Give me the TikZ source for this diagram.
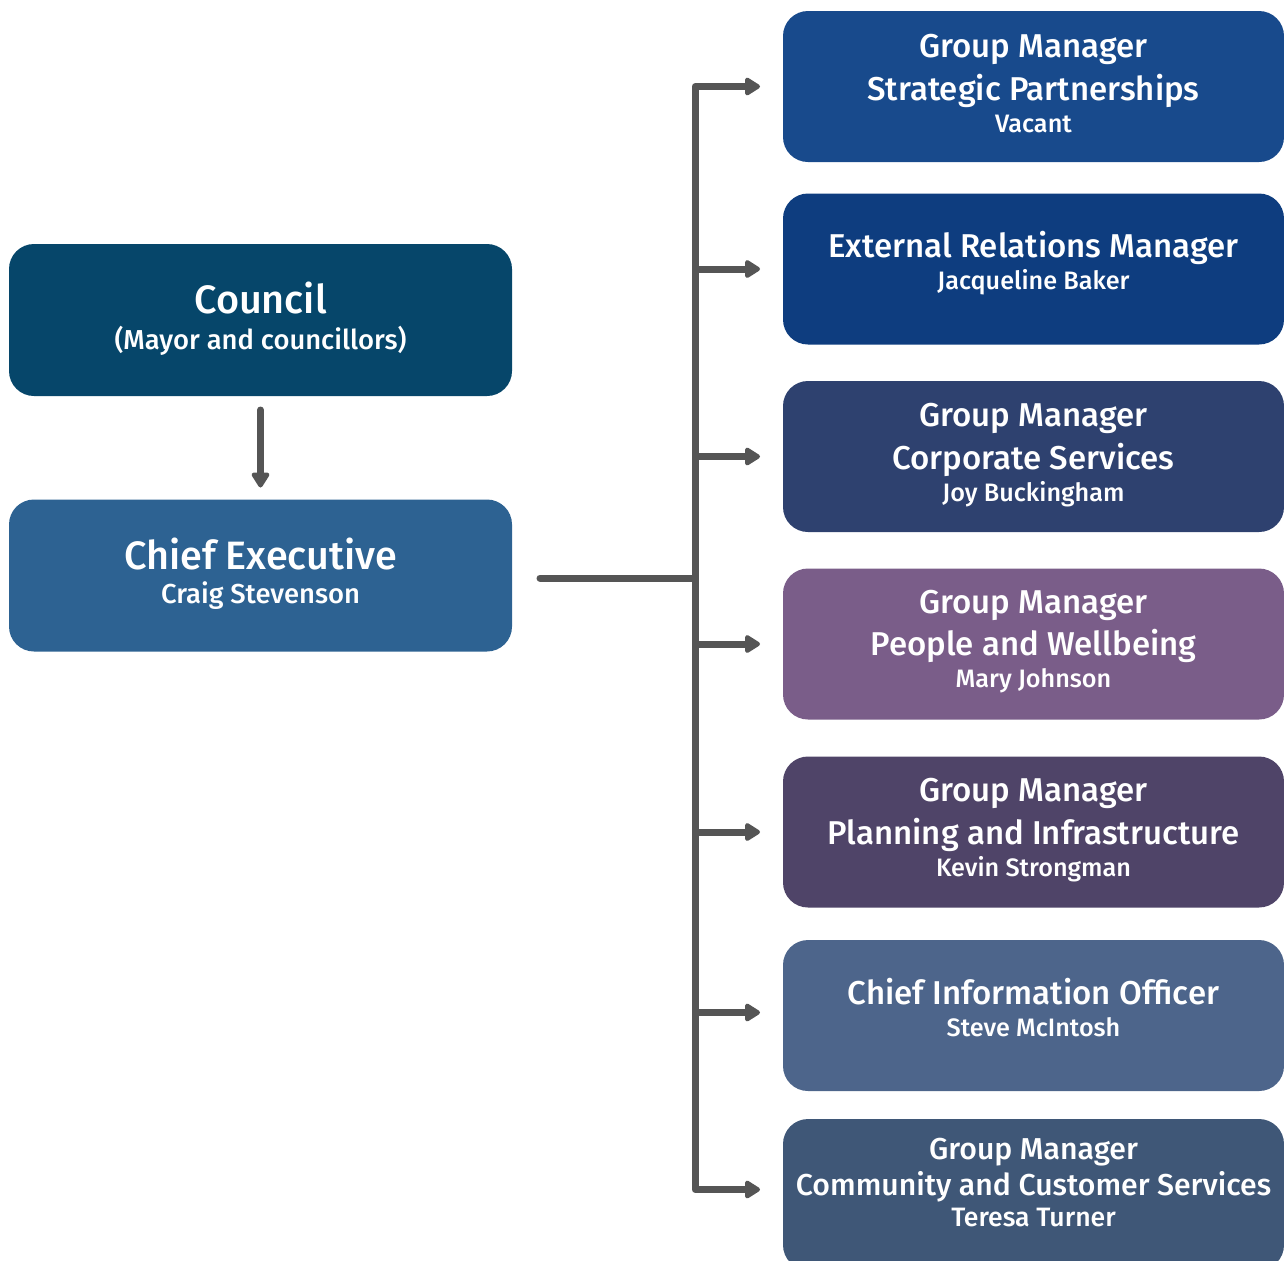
\documentclass[tikz,border=0pt]{standalone}
\usepackage{fontspec}
\setmainfont{Fira Sans}[UprightFont=* Medium]
\usetikzlibrary{arrows.meta,calc}
\definecolor{cCouncil}{HTML}{06466A}
\definecolor{cCEO}{HTML}{2D6292}
\definecolor{cB1}{HTML}{184A8C}
\definecolor{cB2}{HTML}{0E3D7F}
\definecolor{cB3}{HTML}{2E416F}
\definecolor{cB4}{HTML}{7A5D89}
\definecolor{cB5}{HTML}{4F4468}
\definecolor{cB6}{HTML}{4D658B}
\definecolor{cB7}{HTML}{3F5777}
\definecolor{lineGray}{HTML}{555555}
\begin{document}
\begin{tikzpicture}[x=0.5pt,y=-0.5pt,
  box/.style={rounded corners=12.5pt, inner sep=0pt, outer sep=0pt, draw=none},
  lbox/.style={box, minimum width=251.5pt, minimum height=76pt},
  rbox/.style={box, minimum width=250.5pt, minimum height=75.5pt},
  txt/.style={anchor=base, text=white, inner sep=0pt},
  big/.style={txt, font=\fontsize{19.8}{22}\selectfont},
  mid/.style={txt, font=\fontsize{13.7}{16}\selectfont},
  ttl/.style={txt, font=\fontsize{16.5}{18}\selectfont},
  nm/.style={txt, font=\fontsize{12.6}{14}\selectfont},
  ttls/.style={txt, font=\fontsize{15.1}{17}\selectfont},
  nms/.style={txt, font=\fontsize{13.3}{15}\selectfont},
  conn/.style={draw=lineGray, line width=3.5pt},
  tip/.tip={Triangle[length=8.5pt,width=10pt,round]},
  arr/.style={conn, -tip}]
\clip (0,0) rectangle (1284,1260);
\useasboundingbox (0,0) rectangle (1284,1260);
% left boxes
\node[lbox, fill=cCouncil] (council) at (260.5,320) {};
\node[lbox, fill=cCEO] (ceo) at (260.5,575.5) {};
% right boxes
\node[rbox, fill=cB1] (b1) at (1033.5,86.5) {};
\node[rbox, fill=cB2] (b2) at (1033.5,269) {};
\node[rbox, fill=cB3] (b3) at (1033.5,456.5) {};
\node[rbox, fill=cB4] (b4) at (1033.5,644) {};
\node[rbox, fill=cB5] (b5) at (1033.5,832) {};
\node[rbox, fill=cB6] (b6) at (1033.5,1015.5) {};
\node[rbox, fill=cB7] (b7) at (1033.5,1194.5) {};
% texts
\node[big] (t-council) at (260.5,313) {Council};
\node[mid] (t-council2) at (260.5,349) {(Mayor and councillors)};
\node[big] (t-ceo) at (260.5,569) {Chief Executive};
\node[mid] (t-ceo2) at (260.5,603) {Craig Stevenson};
\node[ttl] (t1a) at (1033.5,57) {Group Manager};
\node[ttl] (t1b) at (1033.5,100) {Strategic Partnerships};
\node[nm] (t1c) at (1033.5,132) {Vacant};
\node[ttl] (t2a) at (1033.5,257) {External Relations Manager};
\node[nm] (t2b) at (1033.5,289) {Jacqueline Baker};
\node[ttl] (t3a) at (1033.5,426) {Group Manager};
\node[ttl] (t3b) at (1033.5,469) {Corporate Services};
\node[nm] (t3c) at (1033.5,501) {Joy Buckingham};
\node[ttl] (t4a) at (1033.5,613) {Group Manager};
\node[ttl] (t4b) at (1033.5,655) {People and Wellbeing};
\node[nm] (t4c) at (1033.5,687) {Mary Johnson};
\node[ttl] (t5a) at (1033.5,801) {Group Manager};
\node[ttl] (t5b) at (1033.5,844) {Planning and Infrastructure};
\node[nm] (t5c) at (1033.5,876) {Kevin Strongman};
\node[ttl] (t6a) at (1033.5,1004) {Chief Information Officer};
\node[nm] (t6b) at (1033.5,1036) {Steve McIntosh};
\node[ttls] (t7a) at (1033.5,1159) {Group Manager};
\node[ttls] (t7b) at (1033.5,1195) {Community and Customer Services};
\node[nms] (t7c) at (1033.5,1226) {Teresa Turner};
% connectors
\coordinate (jn) at (695,578);
\coordinate (ceoOut) at ($(ceo.east)+(28,0)$);
\draw[arr, line cap=round] ($(council.south)+(0,14)$) -- ($(ceo.north)+(0,-12)$);
\draw[conn, line cap=round] (ceoOut |- jn) -- (jn);
\draw[conn, line join=round, tip-tip]
  ($(b1.west)+(-23,0)$) -- (b1.west -| jn) -- ($(b7.west -| jn)+(0,-5)$) -- ($(b7.west)+(-23,-5)$);
\draw[arr] (b2.west -| jn) -- ($(b2.west)+(-23,0)$);
\draw[arr] (b3.west -| jn) -- ($(b3.west)+(-23,0)$);
\draw[arr] (b4.west -| jn) -- ($(b4.west)+(-23,0)$);
\draw[arr] (b5.west -| jn) -- ($(b5.west)+(-23,0)$);
\draw[arr] ($(b6.west -| jn)+(0,-3)$) -- ($(b6.west)+(-23,-3)$);
\end{tikzpicture}
\end{document}
